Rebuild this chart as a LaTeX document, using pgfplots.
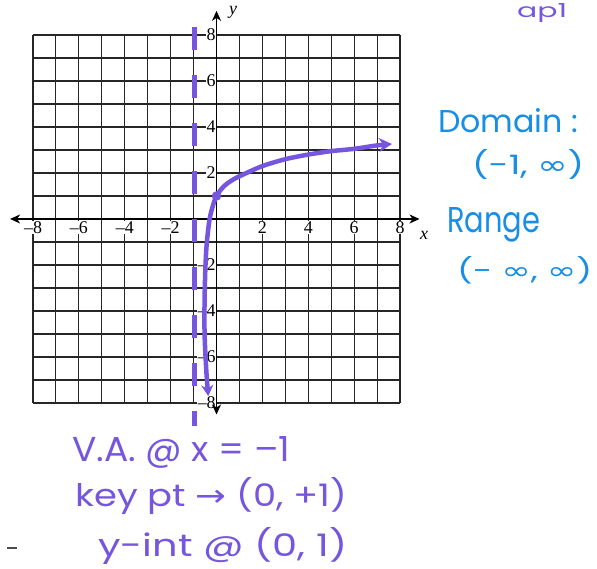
\documentclass[border=0pt]{standalone}
\usepackage{pgfplots}
\pgfplotsset{compat=1.18}
\usetikzlibrary{arrows.meta}
\usepackage{fontspec}
\setmainfont{Liberation Serif}
\newfontfamily\hand{Poppins}
\newfontfamily\sym{DejaVu Sans}
\definecolor{inkpurple}{RGB}{118,86,222}
\definecolor{inkblue}{RGB}{24,142,228}
% handwritten note squeezed into a given width and height
\newcommand{\hw}[3]{\resizebox{#1}{#2}{\hand #3}}

\begin{document}
\begin{tikzpicture}[x=1bp,y=1bp]
\clip (0,0) rectangle (597,569);
\begin{axis}[
  at={(33bp,166bp)}, anchor=south west,
  width=367bp, height=368bp, scale only axis,
  xmin=-8, xmax=8, ymin=-8, ymax=8,
  axis lines=middle, axis line style={draw=none},
  xtick={-8,-6,-4,-2,2,4,6,8}, ytick={-8,-6,-4,-2,2,4,6,8},
  minor xtick={-8,...,8}, minor ytick={-8,...,8},
  xticklabels={--8,--6,--4,--2,2,4,6,8},
  yticklabels={--8,--6,--4,--2,2,4,6,8},
  major tick length=0pt, minor tick length=0pt,
  grid=both,
  major grid style={black!85, line width=1.1bp},
  minor grid style={black!85, line width=1.1bp},
  every tick label/.append style={font=\fontsize{18}{18}\selectfont, fill=white, inner sep=0.6pt},
  xticklabel style={anchor=north, yshift=-2bp},
  yticklabel style={anchor=east, xshift=0bp},
  clip=false,
]
% coordinate axes with arrow heads
\draw[black, line width=1.4bp, {Stealth[length=10bp,width=9bp,inset=3bp]}-{Stealth[length=10bp,width=9bp,inset=3bp]}]
  (axis cs:-9,0) -- (axis cs:8.85,0);
\draw[black, line width=1.4bp, {Stealth[length=10bp,width=9bp,inset=3bp]}-{Stealth[length=10bp,width=9bp,inset=3bp]}]
  (axis cs:0,-8.5) -- (axis cs:0,9.05);
\node[font=\itshape\fontsize{18}{18}\selectfont] at (axis cs:0.72,8.98) {y};
\node[font=\itshape\fontsize{18}{18}\selectfont] at (axis cs:9.05,-0.72) {x};

% vertical asymptote x = -1
\addplot[inkpurple, line width=4.5bp, dash pattern=on 23bp off 25bp]
  coordinates {(-0.97,8.35) (-0.97,-9.0)};

% the log curve through the key point
\addplot[inkpurple, line width=4.5bp, smooth, tension=0.5,
  arrows={Stealth[length=11bp,width=12bp]-Stealth[length=13bp,width=14bp]}]
  coordinates {
    (-0.36,-7.7) (-0.45,-6.5) (-0.52,-5) (-0.52,-3.5) (-0.48,-2)
    (-0.42,-1) (-0.3,0) (-0.15,0.6) (0,1) (0.3,1.4) (0.7,1.7)
    (1.2,1.95) (2,2.3) (3,2.6) (4,2.8) (5,2.95) (6,3.05) (7,3.2) (7.65,3.26)
  };
\addplot[only marks, mark=*, mark size=4.5bp, inkpurple] coordinates {(0,1)};
\end{axis}

% notes
\node[anchor=base west, inner sep=0, text=inkpurple] at (517,551) {\hw{50bp}{14bp}{ap1}};
\node[anchor=base west, inner sep=0, text=inkblue] at (438,436) {\hw{140bp}{24bp}{Domain :}};
\node[anchor=base west, inner sep=0, text=inkblue] at (472,394) {\hw{112bp}{25bp}{(-1, {\sym ∞})}};
\node[anchor=base west, inner sep=0, text=inkblue] at (447,336) {\hw{93bp}{25bp}{Range}};
\node[anchor=base west, inner sep=0, text=inkblue] at (457,289) {\hw{135bp}{23bp}{(- {\sym ∞}, {\sym ∞})}};
\node[anchor=base west, inner sep=0, text=inkpurple] at (72,107) {\hw{218bp}{25bp}{V.A. @ x = –1}};
\node[anchor=base west, inner sep=0, text=inkpurple] at (75,62) {\hw{272bp}{29bp}{key pt {\sym →} (0, +1)}};
\node[anchor=base west, inner sep=0, text=inkpurple] at (98,12) {\hw{249bp}{29bp}{y-int @ (0, 1)}};
\draw[black!70, line width=1.2bp] (7,21) -- (17,21);
\end{tikzpicture}
\end{document}
